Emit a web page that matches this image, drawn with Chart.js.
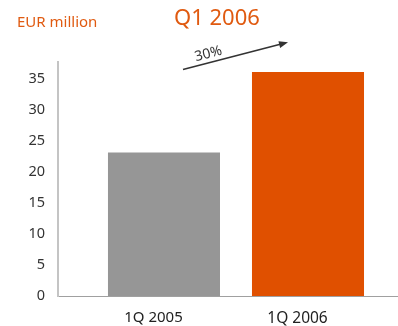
<!DOCTYPE html>
<html>
<head>
<meta charset="utf-8">
<script src="https://cdn.jsdelivr.net/npm/chart.js@4/dist/chart.umd.min.js"></script>
<style>
  html, body { margin: 0; padding: 0; background: #fff; }
  #wrap { width: 398px; height: 326px; }
</style>
</head>
<body>
<div id="wrap"><canvas id="c" width="398" height="326"></canvas></div>
<script>
// Quarterly figures, EUR million
const categories = ['1Q 2005', '1Q 2006'];
const positions = [1, 2];
const revenue = [23.1, 36.1];
const barColors = ['#969696', '#e05000'];
const yTicks = [0, 5, 10, 15, 20, 25, 30, 35];
const unitLabel = 'EUR million';
const titleText = 'Q1 2006';
const growthLabel = '30%';

const FONT = "'Noto Sans', 'Open Sans', sans-serif";

// Header texts and the growth arrow
const headerPlugin = {
  id: 'header',
  afterDraw(chart) {
    const ctx = chart.ctx;
    ctx.save();
    ctx.fillStyle = '#e05a10';
    ctx.textBaseline = 'alphabetic';
    ctx.textAlign = 'left';
    ctx.font = '15px ' + FONT;
    ctx.fillText(unitLabel, 17, 26.5);
    ctx.font = '22px ' + FONT;
    ctx.fillText(titleText, 174, 25);

    // arrow
    const x0 = 183, y0 = 69.5, x1 = 288, y1 = 42.3;
    const ang = Math.atan2(y1 - y0, x1 - x0);
    ctx.strokeStyle = '#333';
    ctx.fillStyle = '#333';
    ctx.lineWidth = 1.6;
    ctx.beginPath();
    ctx.moveTo(x0, y0);
    ctx.lineTo(x1 - 6 * Math.cos(ang), y1 - 6 * Math.sin(ang));
    ctx.stroke();
    ctx.beginPath();
    ctx.moveTo(x1, y1);
    ctx.lineTo(x1 - 9 * Math.cos(ang) + 3.5 * Math.sin(ang), y1 - 9 * Math.sin(ang) - 3.5 * Math.cos(ang));
    ctx.lineTo(x1 - 9 * Math.cos(ang) - 3.5 * Math.sin(ang), y1 - 9 * Math.sin(ang) + 3.5 * Math.cos(ang));
    ctx.closePath();
    ctx.fill();

    // growth label along the arrow
    ctx.translate(208.5, 54);
    ctx.rotate(ang);
    ctx.textAlign = 'center';
    ctx.textBaseline = 'middle';
    ctx.font = '14px ' + FONT;
    ctx.fillText(growthLabel, 0, 0);
    ctx.restore();
  }
};

new Chart(document.getElementById('c'), {
  type: 'bar',
  data: {
    datasets: [{
      data: positions.map((x, i) => ({ x: x, y: revenue[i] })),
      backgroundColor: barColors,
      borderWidth: 0,
      barPercentage: 0.778,
      categoryPercentage: 1
    }]
  },
  options: {
    responsive: false,
    animation: false,
    layout: { padding: { top: 62, left: 0, right: 0, bottom: 0 } },
    plugins: {
      legend: { display: false },
      tooltip: { enabled: false },
      title: { display: false }
    },
    scales: {
      x: {
        type: 'linear',
        offset: false,
        min: 0.264,
        max: 2.625,
        afterBuildTicks: (scale) => { scale.ticks = positions.map(v => ({ value: v })); },
        afterFit: (scale) => { scale.height = 30; },
        grid: { display: false, drawTicks: false, offset: false },
        border: { display: true, color: '#a0a0a0', width: 1 },
        ticks: {
          autoSkip: false,
          maxRotation: 0,
          padding: 13,
          labelOffset: -10.5,
          color: '#222',
          font: (c) => ({ family: FONT, size: c.index === 0 ? 15 : 15.5 }),
          callback: (v) => categories[positions.indexOf(v)]
        }
      },
      y: {
        min: 0,
        max: 37.7,
        afterBuildTicks: (scale) => { scale.ticks = yTicks.map(v => ({ value: v })); },
        afterFit: (scale) => { scale.width = 58; },
        grid: { display: false, drawTicks: false },
        border: { display: true, color: '#c4c4c4', width: 2 },
        ticks: {
          padding: 13,
          color: '#333',
          font: { family: FONT, size: 14.5 }
        }
      }
    }
  },
  plugins: [headerPlugin]
});
</script>
</body>
</html>
